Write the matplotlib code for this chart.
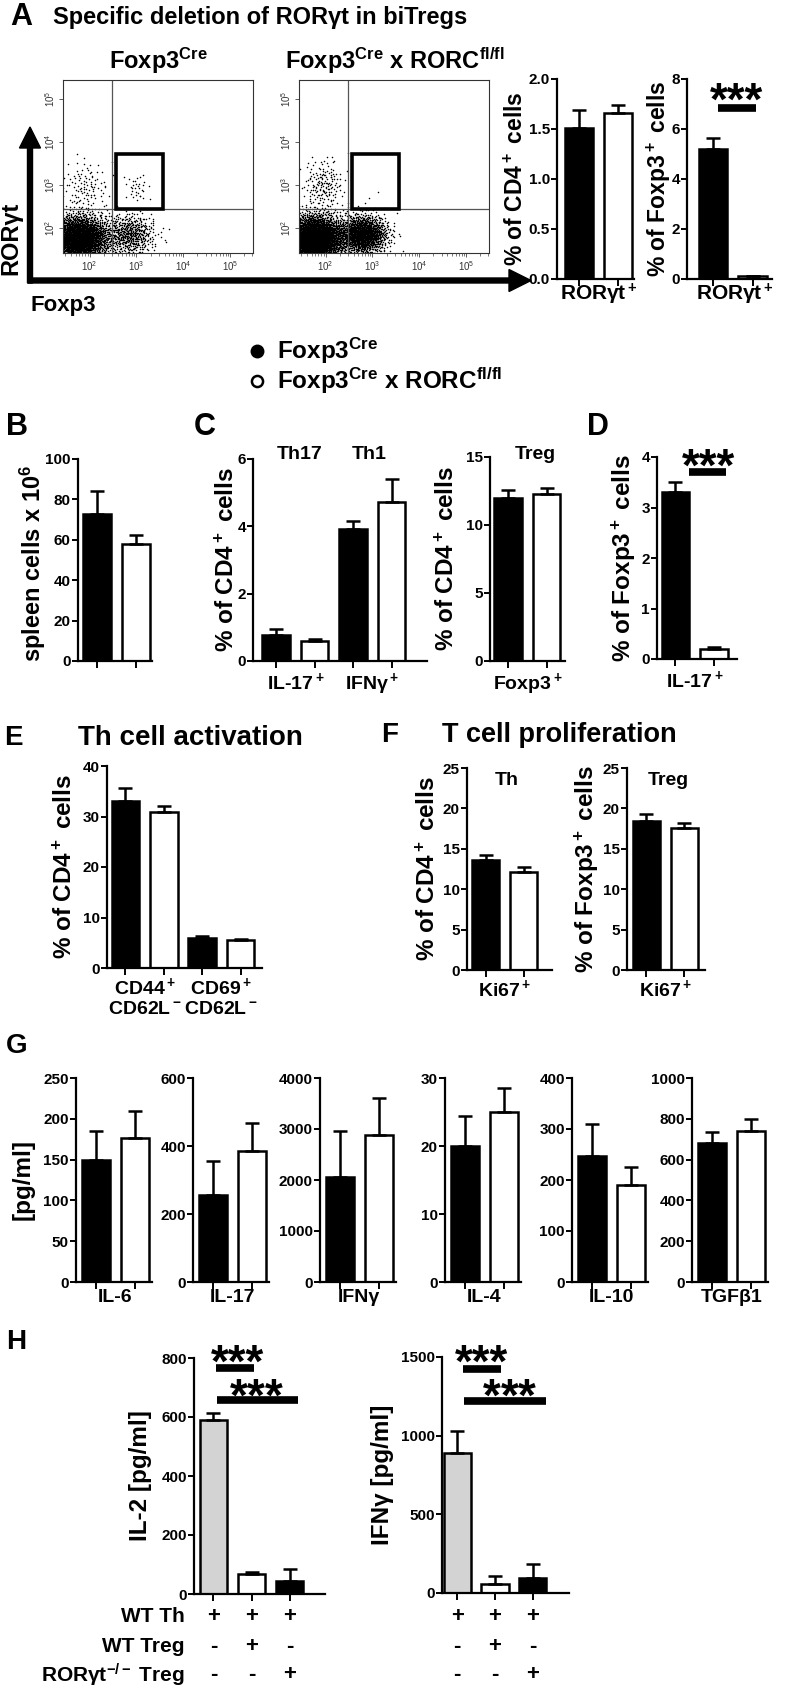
import numpy as np
import matplotlib
matplotlib.use('Agg')
import matplotlib.pyplot as plt
from matplotlib.patches import Rectangle, FancyArrow
from matplotlib.font_manager import FontProperties
from matplotlib.ticker import FormatStrFormatter, LogLocator, NullLocator, NullFormatter
from matplotlib.transforms import blended_transform_factory

# ---------------- values ----------------
# A: flow populations as (log10 Foxp3, log10 RORgt, sd x, sd y, events)
flow_cre = [(1.75, 1.75, 0.33, 0.27, 3000), (2.85, 1.85, 0.27, 0.24, 550),
            (1.90, 2.95, 0.25, 0.30, 110), (3.00, 2.95, 0.13, 0.17, 32)]
flow_ko = [(1.75, 1.75, 0.33, 0.27, 3800), (2.80, 1.85, 0.25, 0.22, 1500),
           (1.95, 3.00, 0.22, 0.30, 170), (2.90, 2.70, 0.10, 0.10, 2)]
flow_titles = ['Foxp3$^{Cre}$', 'Foxp3$^{Cre}$ x RORC$^{fl/fl}$']

a_cd4 = [1.51, 1.66]
a_cd4_err = [0.18, 0.08]
a_fox = [5.2, 0.12]
a_fox_err = [0.45, 0.02]
b_spleen = [73, 58]
b_spleen_err = [11, 4.5]
c_th = [0.76, 0.58, 3.92, 4.72]
c_th_err = [0.18, 0.06, 0.25, 0.70]
c_treg = [12.0, 12.3]
c_treg_err = [0.55, 0.45]
d_il17 = [3.3, 0.2]
d_il17_err = [0.2, 0.04]
e_act = [33.1, 30.8, 6.0, 5.6]
e_act_err = [2.5, 1.3, 0.35, 0.12]
f_th = [13.6, 12.1]
f_th_err = [0.6, 0.7]
f_treg = [18.4, 17.6]
f_treg_err = [0.9, 0.6]
g_names = ['IL-6', 'IL-17', 'IFNγ', 'IL-4', 'IL-10', 'TGFβ1']
g_cre = [150, 255, 2050, 20, 247, 680]
g_cre_err = [35, 100, 920, 4.4, 63, 53]
g_ko = [177, 385, 2890, 25, 191, 738]
g_ko_err = [33, 83, 710, 3.5, 35, 62]
g_ymax = [250, 600, 4000, 30, 400, 1000]
g_step = [50, 200, 1000, 10, 100, 200]
h_il2 = [590, 68, 45]
h_il2_err = [23, 5, 40]
h_ifng = [890, 57, 95]
h_ifng_err = [140, 50, 88]
h_rows = ['WT Th', 'WT Treg', 'RORγt$^{-/-}$ Treg']
h_signs = [['+', '+', '+'], ['-', '+', '-'], ['-', '-', '+']]

pair = ['black', 'white']
trio = ['#d3d3d3', 'white', 'black']

FAMILY = ['Liberation Sans', 'DejaVu Sans']
plt.rcParams.update({
    'font.family': FAMILY,
    'font.weight': 'bold',
    'mathtext.fontset': 'custom',
    'mathtext.rm': 'Liberation Sans:bold',
    'mathtext.it': 'Liberation Sans:bold',
    'mathtext.bf': 'Liberation Sans:bold',
    'mathtext.default': 'regular',
})

W, H = 787, 1689
fig = plt.figure(figsize=(W / 100, H / 100), dpi=100)
bg = fig.add_axes([0, 0, 1, 1])
bg.set_xlim(0, W)
bg.set_ylim(H, 0)
bg.axis('off')
renderer = fig.canvas.get_renderer()

TICK = 11    # tick numbers
CAT = 14     # category labels
YL = 17.5    # axis titles


def new_ax(left, top, right, bottom):
    return fig.add_axes([left / W, 1 - bottom / H, (right - left) / W, (bottom - top) / H])


def txt(x, y, s, size, **kw):
    kw.setdefault('ha', 'center')
    kw.setdefault('va', 'center')
    bg.text(x, y, s, fontsize=size, fontweight='bold', **kw)


def halton(n, base, start):
    out = np.zeros(n)
    for k in range(n):
        i = k + start + 1
        f, r = 1.0, 0.0
        while i > 0:
            f /= base
            r += f * (i % base)
            i //= base
        out[k] = r
    return out


def flow(box, pops):
    ax = new_ax(*box)
    ax.set_xscale('log')
    ax.set_yscale('log')
    start = 0
    for cx, cy, sx, sy, n in pops:
        u1 = halton(n, 2, start)
        u2 = halton(n, 3, start)
        start += n
        r = np.sqrt(-2 * np.log(u1))
        ax.plot(10 ** (cx + sx * r * np.cos(2 * np.pi * u2)),
                10 ** (cy + sy * r * np.sin(2 * np.pi * u2)),
                'o', ms=1.1, mew=0, color='black', zorder=1)
    ax.set_xlim(10 ** 1.43, 10 ** 5.49)
    ax.set_ylim(10 ** 1.42, 10 ** 5.44)
    ax.axvline(10 ** 2.47, color='#555555', lw=0.9)
    ax.axhline(10 ** 2.44, color='#555555', lw=0.9)
    ax.add_patch(Rectangle((10 ** 2.57, 10 ** 2.44), 10 ** 3.56 - 10 ** 2.57,
                           10 ** 3.72 - 10 ** 2.44, fill=False, lw=2.6, ec='black', zorder=3))
    dec = [1e2, 1e3, 1e4, 1e5]
    labs = ['$10^2$', '$10^3$', '$10^4$', '$10^5$']
    ax.set_xticks(dec, labs, fontsize=7, fontweight='normal', color='#333333')
    ax.set_yticks(dec, labs, fontsize=7, fontweight='normal', color='#333333',
                  rotation=90, va='center')
    ax.xaxis.set_minor_locator(LogLocator(base=10, subs=np.arange(2, 10)))
    ax.xaxis.set_minor_formatter(NullFormatter())
    ax.yaxis.set_minor_locator(NullLocator())
    ax.tick_params(which='major', length=3, width=0.6, color='#444444', pad=1.5)
    ax.tick_params(which='minor', length=1.8, width=0.5, color='#444444')
    for s in ax.spines.values():
        s.set_linewidth(0.8)
        s.set_color('#333333')
    return ax


def bars(box, vals, errs, xlim, ymax, step, colors, fmt=None, tsize=TICK):
    ax = new_ax(*box)
    x = np.arange(len(vals))
    ax.bar(x, vals, 0.72, color=colors, edgecolor='black', linewidth=1.8, zorder=2)
    ax.errorbar(x, vals, yerr=[np.zeros(len(vals)), errs], fmt='none', ecolor='black',
                elinewidth=1.8, capsize=5, capthick=1.8, zorder=3, clip_on=False)
    ax.set_xlim(xlim)
    ax.set_ylim(0, ymax)
    ax.set_yticks(np.arange(0, ymax + step / 2, step))
    if fmt:
        ax.yaxis.set_major_formatter(FormatStrFormatter(fmt))
    ax.set_xticks(x, [])
    for s in ['top', 'right']:
        ax.spines[s].set_visible(False)
    for s in ['left', 'bottom']:
        ax.spines[s].set_linewidth(1.6)
    ax.tick_params(axis='y', length=4, width=1.4, labelsize=tsize, pad=1.2)
    ax.tick_params(axis='x', which='major', length=5, width=1.4)
    ax.patch.set_visible(False)
    return ax


def cats(ax, pos, labels, size, pad):
    ax.set_xticks(pos, labels, minor=True, fontsize=size)
    ax.tick_params(axis='x', which='minor', length=0, pad=pad)


def ylab(x, y, s, size=YL):
    txt(x, y, s, size, rotation=90)


def stars(x, y, size=33):
    # y is the visual centre of the asterisks
    txt(x, y + 0.58 * size / 0.72, '***', size, va='baseline')


def stars2(x1, y1, y2, shift, size=33):
    # two stacked rows of *** in one text; the second row is pushed right by a math space
    prop = FontProperties(family=FAMILY, weight='bold', size=size)
    w, _, _ = renderer.get_text_width_height_descent('***', prop, False)
    _, lp_h, lp_d = renderer.get_text_width_height_descent('lp', prop, False)
    base1 = y1 + 0.58 * size / 0.72
    ls = ((y2 - y1) - lp_d) / (lp_h - lp_d)
    bg.text(x1 - w / 2, base1 - (lp_h - lp_d), '***\n$' + shift + '$***', fontsize=size,
            fontweight='bold', ha='left', va='top', multialignment='left', linespacing=ls)


def sig(x0, x1, y):
    bg.plot([x0, x1], [y, y], color='black', lw=5.5, solid_capstyle='butt')


# ---------------- A ----------------
txt(21, 17, 'A', 22)
txt(53, 17, 'Specific deletion of RORγt in biTregs', 17, ha='left')
flow((63, 80, 253, 253), flow_cre)
flow((299, 80, 489, 253), flow_ko)
txt(158, 61, flow_titles[0], 17)
txt(395, 61, flow_titles[1], 17)
bg.add_patch(FancyArrow(30, 283, 0, -156, width=5, head_width=21, head_length=21,
                        length_includes_head=True, color='black'))
bg.add_patch(FancyArrow(28, 280.5, 503, 0, width=5, head_width=22, head_length=22,
                        length_includes_head=True, color='black'))
txt(11, 238, 'RORγt', 17, rotation=90)
txt(30, 305, 'Foxp3', 16, ha='left')

ax = bars((557, 79, 634, 279), a_cd4, a_cd4_err, (-0.58, 1.42), 2.0, 0.5, pair, '%.1f', 11)
cats(ax, [0.5], ['RORγt$^+$'], 15, 2)
ylab(516, 179, '% of CD4$^+$ cells', 16.5)
ax = bars((687, 79, 772, 279), a_fox, a_fox_err, (-0.65, 1.48), 8, 2, pair)
cats(ax, [0.55], ['RORγt$^+$'], 15, 2)
ylab(659, 179, '% of Foxp3$^+$ cells', 16.5)
stars(737, 88)
sig(718, 756, 108)

# legend
bg.plot([257], [351], 'o', ms=9, color='black')
bg.plot([257], [381], 'o', ms=8, mfc='white', mec='black', mew=1.8)
txt(277, 351, 'Foxp3$^{Cre}$', 17.5, ha='left')
txt(277, 381, 'Foxp3$^{Cre}$ x RORC$^{fl/fl}$', 17.5, ha='left')

# ---------------- B, C, D ----------------
txt(17, 427, 'B', 22)
ax = bars((78, 459, 152, 661), b_spleen, b_spleen_err, (-0.5, 1.4), 100, 20, pair)
ylab(33, 563, 'spleen cells x 10$^6$', 17)

txt(205, 427, 'C', 22)
ax = bars((253, 459, 427, 661), c_th, c_th_err, (-0.6, 3.92), 6, 2, pair * 2)
cats(ax, [0.5, 2.5], ['IL-17$^+$', 'IFNγ$^+$'], CAT, 7)
ylab(227, 560, '% of CD4$^+$ cells')
txt(300, 454, 'Th17', CAT)
txt(369, 454, 'Th1', CAT)
ax = bars((490, 457, 565, 661), c_treg, c_treg_err, (-0.47, 1.48), 15, 5, pair)
cats(ax, [0.5], ['Foxp3$^+$'], CAT, 7)
ylab(447, 559, '% of CD4$^+$ cells')
txt(535, 454, 'Treg', CAT)

txt(598, 427, 'D', 22)
ax = bars((657, 457, 737, 659), d_il17, d_il17_err, (-0.48, 1.6), 4, 1, pair)
cats(ax, [0.5], ['IL-17$^+$'], CAT, 7)
ylab(624, 558, '% of Foxp3$^+$ cells')
stars(709, 454)
sig(689, 726, 472)

# ---------------- E, F ----------------
txt(13, 738, 'E', 20)
txt(78, 738, 'Th cell activation', 20, ha='left')
ax = bars((107, 766, 262, 968), e_act, e_act_err, (-0.48, 3.56), 37, 10, pair * 2)
cats(ax, [0.5, 2.5], ['CD44$^+$\nCD62L$^-$', 'CD69$^+$\nCD62L$^-$'], CAT, 6)
ylab(65, 867, '% of CD4$^+$ cells')

txt(390, 735, 'F', 20)
txt(442, 735, 'T cell proliferation', 19.5, ha='left')
ax = bars((467, 768, 552, 970), f_th, f_th_err, (-0.49, 1.75), 25, 5, pair)
cats(ax, [0.5], ['Ki67$^+$'], CAT, 6)
ylab(428, 869, '% of CD4$^+$ cells')
txt(507, 780, 'Th', CAT)
ax = bars((627, 768, 705, 970), f_treg, f_treg_err, (-0.51, 1.54), 25, 5, pair)
cats(ax, [0.5], ['Ki67$^+$'], CAT, 6)
ylab(587, 869, '% of Foxp3$^+$ cells')
txt(668, 780, 'Treg', CAT)

# ---------------- G ----------------
txt(17, 1046, 'G', 20)
g_left = [76, 193, 320, 445, 572, 692]
for i in range(len(g_names)):
    ax = bars((g_left[i], 1078, g_left[i] + 76, 1282), [g_cre[i], g_ko[i]],
              [g_cre_err[i], g_ko_err[i]], (-0.51, 1.44), g_ymax[i], g_step[i], pair)
    cats(ax, [0.5], [g_names[i]], CAT, 5)
ylab(23, 1180, '[pg/ml]')

# ---------------- H ----------------
txt(16, 1342, 'H', 20)
row_y = [1617, 1647, 1675]
ax1 = bars((194, 1358, 325, 1594), h_il2, h_il2_err, (-0.51, 2.93), 800, 200, trio)
ylab(140, 1476, 'IL-2 [pg/ml]')
ax2 = bars((442, 1357, 569, 1593), h_ifng, h_ifng_err, (-0.4, 2.96), 1500, 500, trio)
ylab(383, 1475, 'IFNγ [pg/ml]')
for ax in (ax1, ax2):
    tr = blended_transform_factory(ax.transData, bg.transData)
    for yy, signs in zip(row_y, h_signs):
        for j, s in enumerate(signs):
            ax.text(j, yy, s, transform=tr, ha='center', va='center', fontsize=16,
                    fontweight='bold')
for yy, lab in zip(row_y, h_rows):
    txt(185, yy, lab, 15, ha='right')
stars2(238, 1350, 1383, r'\:\:')
sig(216, 254, 1368)
sig(217, 298, 1400)
stars2(482, 1350, 1383, r'\enspace\,')
sig(463, 501, 1369)
sig(464, 546, 1401)

fig.savefig('out.png', dpi=100)
